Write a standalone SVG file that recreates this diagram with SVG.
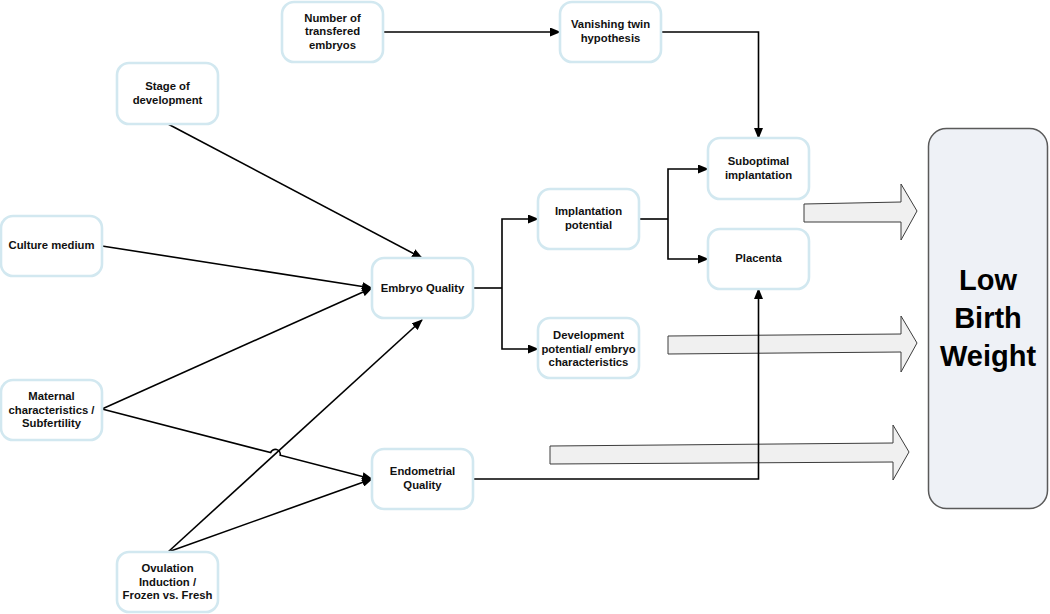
<svg xmlns="http://www.w3.org/2000/svg" width="1050" height="614" viewBox="0 0 1050 614">
<defs>
<style>
.node rect{fill:#ffffff;stroke:#d2e8f0;stroke-width:2.6}
.node text{font-family:"Liberation Sans",Arial,sans-serif;font-weight:bold;font-size:11.3px;fill:#111;text-anchor:middle}
.conn path{fill:none;stroke:#000;stroke-width:1.6;marker-end:url(#ah)}
.conn path.plain{marker-end:none}
.big{fill:#f0f0f0;stroke:#3c3c3c;stroke-width:1}
#lbw rect{fill:#eef1f6;stroke:#5a5a5a;stroke-width:1.5}
#lbw text{font-family:"Liberation Sans",Arial,sans-serif;font-weight:bold;font-size:29px;fill:#000;text-anchor:middle}
</style>
<marker id="ah" markerUnits="userSpaceOnUse" markerWidth="11" markerHeight="9" refX="10" refY="4.5" orient="auto">
<path d="M0,0 L11,4.5 L0,9 z" fill="#000"/>
</marker>
</defs>
<rect width="1050" height="614" fill="#ffffff"/>

<g id="big-arrows">
<polygon class="big" points="804,204 901,202 901,184 917,211 901,240 901,222 804,222"/>
<polygon class="big" points="668,336 901,334 901,316 917,343 901,372 901,352 668,354"/>
<polygon class="big" points="550,446 893,443 893,425 909,452 893,480 893,462 550,464"/>
</g>

<g class="conn" id="connectors">
<path d="M383,32 H560"/>
<path d="M661,32 H758.5 V138"/>
<path d="M168,124 L422,258"/>
<path d="M102,246 L372,288"/>
<path d="M102,409 L372,288"/>
<path d="M102,409 L270.6,452.6 A5,5 0 0 1 280.2,455.2 L372,479"/>
<path d="M168,552 L422,320"/>
<path d="M168,552 L372,479"/>
<path class="plain" d="M473,288 H502"/>
<path d="M502,288 V219 H538"/>
<path d="M502,288 V349 H538"/>
<path class="plain" d="M639,219 H668"/>
<path d="M668,219 V169 H708"/>
<path d="M668,219 V259 H708"/>
<path d="M473,479 H758.5 V289"/>
</g>

<g id="number" class="node"><rect x="282" y="2" width="101" height="60" rx="12"/>
<text x="332.5" y="21.5">Number of</text><text x="332.5" y="35">transfered</text><text x="332.5" y="48.5">embryos</text></g>

<g id="stage" class="node"><rect x="117" y="63" width="101" height="61" rx="12"/>
<text x="167.5" y="90">Stage of</text><text x="167.5" y="103.5">development</text></g>

<g id="culture" class="node"><rect x="1" y="216" width="101" height="60" rx="12"/>
<text x="51.5" y="249">Culture medium</text></g>

<g id="embryo" class="node"><rect x="372" y="258" width="101" height="60" rx="12"/>
<text x="422.5" y="292">Embryo Quality</text></g>

<g id="vanishing" class="node"><rect x="560" y="2" width="101" height="60" rx="12"/>
<text x="610.5" y="28">Vanishing twin</text><text x="610.5" y="41.5">hypothesis</text></g>

<g id="suboptimal" class="node"><rect x="708" y="138" width="101" height="61" rx="12"/>
<text x="758.5" y="165">Suboptimal</text><text x="758.5" y="179">implantation</text></g>

<g id="implantation" class="node"><rect x="538" y="189" width="101" height="60" rx="12"/>
<text x="588.5" y="215">Implantation</text><text x="588.5" y="229">potential</text></g>

<g id="placenta" class="node"><rect x="708" y="229" width="101" height="60" rx="12"/>
<text x="758.5" y="262">Placenta</text></g>

<g id="development" class="node"><rect x="538" y="318" width="101" height="60" rx="12"/>
<text x="588.5" y="339">Development</text><text x="588.5" y="352.5">potential/ embryo</text><text x="588.5" y="366">characteristics</text></g>

<g id="maternal" class="node"><rect x="1" y="380" width="101" height="60" rx="12"/>
<text x="51.5" y="400">Maternal</text><text x="51.5" y="413.5">characteristics /</text><text x="51.5" y="427">Subfertility</text></g>

<g id="ovulation" class="node"><rect x="117" y="552" width="101" height="60" rx="12"/>
<text x="167.5" y="572">Ovulation</text><text x="167.5" y="585.5">Induction /</text><text x="167.5" y="599">Frozen vs. Fresh</text></g>

<g id="endometrial" class="node"><rect x="372" y="449" width="101" height="60" rx="12"/>
<text x="422.5" y="475">Endometrial</text><text x="422.5" y="489">Quality</text></g>

<g id="lbw"><rect x="928.5" y="128.5" width="119" height="380" rx="18"/>
<text x="988" y="290">Low</text><text x="988" y="328">Birth</text><text x="988" y="366">Weight</text></g>
</svg>
